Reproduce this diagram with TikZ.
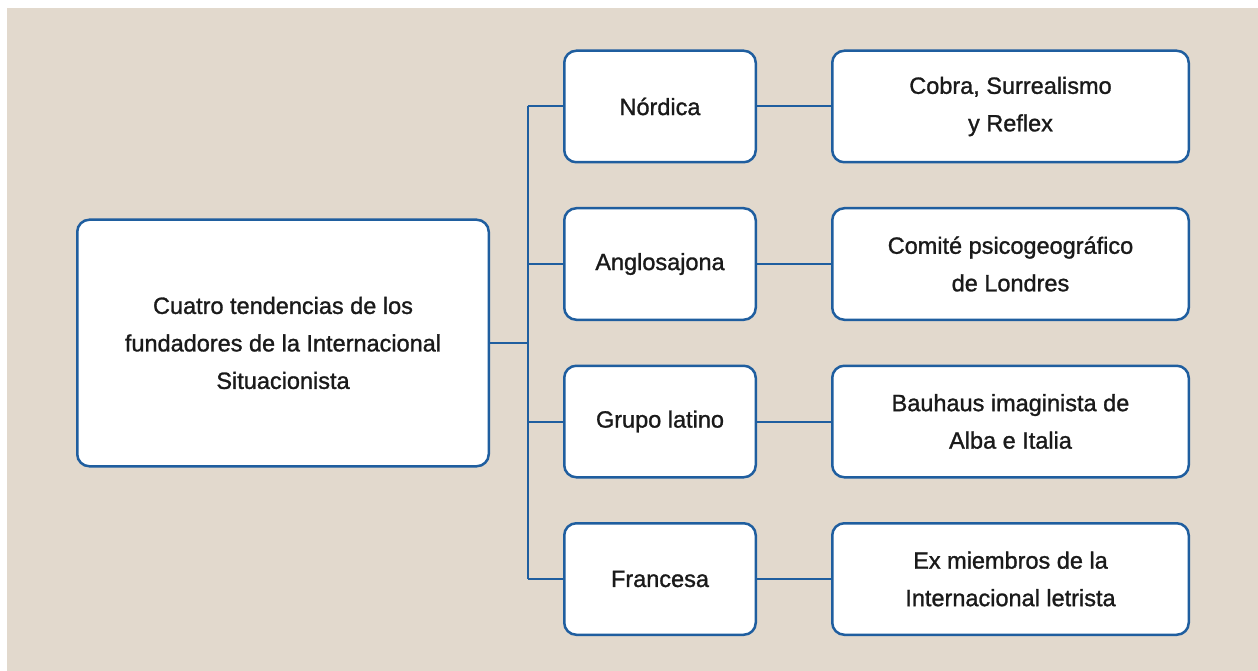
\documentclass[tikz,border=0pt]{standalone}
\usepackage{fontspec}
\setmainfont{Liberation Sans}[FakeBold=1.2]
\definecolor{bgbeige}{HTML}{E2D9CD}
\definecolor{boxblue}{HTML}{1F5E9F}
\definecolor{txt}{HTML}{1A1A1A}
\begin{document}
\begin{tikzpicture}[x=1pt,y=-1pt,
  card/.style={draw=boxblue,line width=2.5pt,fill=white,rounded corners=12pt,
    inner sep=0pt,outer sep=0pt,align=center,text=txt,
    font=\fontsize{23.5}{37.5}\selectfont},
  link/.style={draw=boxblue,line width=2pt}]
\useasboundingbox (0,0) rectangle (1258,671);
\fill[white] (0,0) rectangle (1258,671);
\fill[bgbeige] (7,8) rectangle (1258,671);
\node[card,minimum width=411.5pt,minimum height=246.5pt] (main) at (283,343)
  {Cuatro tendencias de los\\fundadores de la Internacional\\Situacionista};
\foreach \n/\y/\a/\b in {1/106.5/{Nórdica}/{Cobra, Surrealismo\\y Reflex},
                        2/264/{Anglosajona}/{Comité psicogeográfico\\de Londres},
                        3/421.5/{Grupo latino}/{Bauhaus imaginista de\\Alba e Italia},
                        4/579/{Francesa}/{Ex miembros de la\\Internacional letrista}}{
  \node[card,minimum width=191.5pt,minimum height=111.5pt] (m\n) at (660,\y) {\a};
  \node[card,minimum width=356.5pt,minimum height=111.5pt] (r\n) at (1010.5,\y) {\b};
}
\coordinate (trunk) at (527.5,343);
\coordinate (t1) at (527.5,106.5);
\coordinate (t4) at (527.5,579);
\draw[link] (main.east) -- (trunk);
\draw[link] (t1 |- m1.west) -- (t4 |- m4.west);
\foreach \n in {1,2,3,4}{
  \draw[link] (t1 |- m\n.west) -- (m\n.west);
  \draw[link] (m\n.east) -- (r\n.west);
}
\end{tikzpicture}
\end{document}
